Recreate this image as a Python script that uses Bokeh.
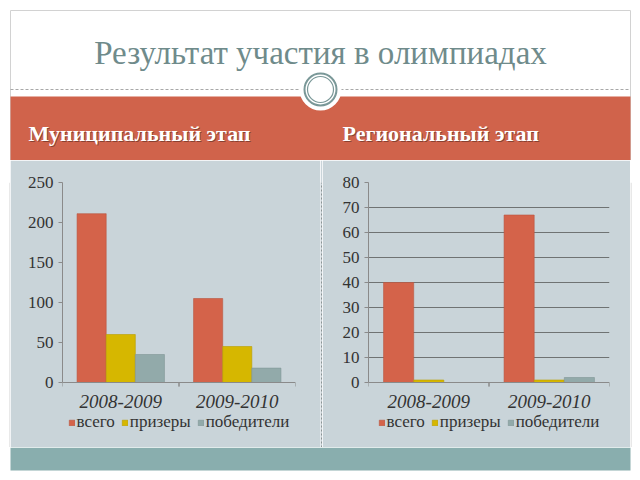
from bokeh.plotting import figure
from bokeh.layouts import row, column
from bokeh.models import (Range1d, FactorRange, Legend, LegendItem, SingleIntervalTicker,
                          Span)
from bokeh.transform import dodge
from bokeh.core.properties import value
from bokeh.embed import file_html
from bokeh.resources import INLINE

# ---------------- data ----------------
title = "Результат участия в олимпиадах"
section_left = "Муниципальный этап"
section_right = "Региональный этап"
years = ["2008-2009", "2009-2010"]
series = ["всего", "призеры", "победители"]
municipal_total = [211, 105]
municipal_prize = [60, 45]
municipal_win = [35, 18]
regional_total = [40, 67]
regional_prize = [1, 1]
regional_win = [0, 2]

# ---------------- style ----------------
SERIF = value("Liberation Serif")
RED = "#d4634a"
YELLOW = "#d6b700"
TEAL = "#92aaaa"
PANEL = "#c9d4d9"
BAND = "#89aeae"
HEAD_RED = "#d0634b"
TEXT = "#333333"
AXIS = "#8a8a8a"


def blank(w, h, xr, yr, bg):
    f = figure(width=w, height=h, x_range=Range1d(*xr), y_range=Range1d(*yr),
               output_backend="svg", toolbar_location=None,
               x_axis_location=None, y_axis_location=None, min_border=0)
    f.grid.visible = False
    f.outline_line_color = None
    f.background_fill_color = bg
    f.border_fill_color = bg
    return f


# ---------------- header ----------------
hdr = blank(640, 160, (0, 640), (160, 0), "white")
hdr.segment(x0=[10, 630, 10], y0=[10, 10, 10], x1=[10, 630, 630], y1=[160, 160, 10],
            line_color="#d2d2d2", line_width=1)
hdr.text(x=[320], y=[52], text=[title], text_align="center", text_baseline="middle",
         text_font=SERIF, text_font_size="33px", text_color="#6f8b8b")
hdr.segment(x0=[10], y0=[89], x1=[630], y1=[89], line_color="#a8a8a8",
            line_width=1, line_dash="3 2")
hdr.quad(left=[10], right=[630], top=[96], bottom=[160], fill_color=HEAD_RED,
         line_color=None)
hdr.circle(x=[320], y=[89], radius=21, fill_color="white", line_color=None)
hdr.circle(x=[320], y=[89], radius=16, fill_color="white", line_color="#7a9898",
           line_width=2)
hdr.circle(x=[320], y=[89], radius=13, fill_color=None, line_color="#7a9898",
           line_width=1.2)
for tx, t in [(28, section_left), (342, section_right)]:
    hdr.text(x=[tx + 1], y=[134], text=[t], text_align="left", text_baseline="middle",
             text_font=SERIF, text_font_size="22px", text_font_style="bold",
             text_color="black", text_alpha=0.35)
    hdr.text(x=[tx], y=[133], text=[t], text_align="left", text_baseline="middle",
             text_font=SERIF, text_font_size="22px", text_font_style="bold",
             text_color="white")


# ---------------- charts ----------------
def chart(w, left_border, right_border, ymax, step, total, prize, win, grid):
    px = ymax / 200.0  # data units per pixel (200 px from 0 to ymax)
    p = figure(width=w, height=287, x_range=FactorRange(*years, range_padding=0),
               y_range=Range1d(-65 * px, ymax), output_backend="svg",
               toolbar_location=None, x_axis_location=None,
               min_border_left=left_border, min_border_right=right_border,
               min_border_top=22, min_border_bottom=0)
    p.background_fill_color = PANEL
    p.border_fill_color = PANEL
    p.outline_line_color = PANEL
    p.outline_line_width = 1.5
    p.xgrid.visible = False
    if grid:
        p.ygrid.grid_line_color = "#6f7373"
        p.ygrid.grid_line_width = 1
        p.ygrid.bounds = (px, ymax)
    else:
        p.ygrid.visible = False
    yax = p.yaxis[0]
    yax.ticker = SingleIntervalTicker(interval=step)
    yax.bounds = (0, ymax)
    yax.axis_line_color = AXIS
    yax.major_tick_line_color = AXIS
    yax.major_tick_in = 0
    yax.major_tick_out = 4
    yax.minor_tick_line_color = None
    yax.major_label_text_font = "Liberation Serif"
    yax.major_label_text_color = TEXT
    yax.major_label_text_font_size = "17px"
    yax.major_label_standoff = 5

    data = dict(x=years, total=total, prize=prize, win=win,
                zero=[0] * len(years), tick=[-4 * px] * len(years),
                lab=[-19 * px] * len(years))
    # x axis line and group boundary ticks
    p.add_layout(Span(location=0, dimension="width", line_color=AXIS, line_width=1))
    for off in (-0.5, 0.5):
        p.segment(x0=dodge("x", off, range=p.x_range), y0="zero",
                  x1=dodge("x", off, range=p.x_range), y1="tick",
                  source=data, line_color=AXIS, line_width=1)
    p.text(x="x", y="lab", text="x", source=data, text_align="center",
           text_baseline="middle", text_font=SERIF, text_font_size="19px",
           text_font_style="italic", text_color=TEXT)

    r1 = p.vbar(x=dodge("x", -0.25, range=p.x_range), top="total", width=0.25,
                source=data, fill_color=RED, line_color="#b85540", line_width=0.6)
    r2 = p.vbar(x=dodge("x", 0.0, range=p.x_range), top="prize", width=0.25,
                source=data, fill_color=YELLOW, line_color="#b89e00", line_width=0.6)
    r3 = p.vbar(x=dodge("x", 0.25, range=p.x_range), top="win", width=0.25,
                source=data, fill_color=TEAL, line_color="#7f9595", line_width=0.6)

    legend = Legend(items=[LegendItem(label=series[0], renderers=[r1]),
                           LegendItem(label=series[1], renderers=[r2]),
                           LegendItem(label=series[2], renderers=[r3])],
                    orientation="horizontal", location="bottom_center",
                    glyph_width=7, glyph_height=7, label_standoff=2, spacing=6,
                    padding=0, margin=15, border_line_color=None,
                    background_fill_alpha=0,
                    label_text_font="Liberation Serif", label_text_font_size="17px",
                    label_text_color=TEXT, label_height=14)
    p.add_layout(legend)
    return p


left = chart(310, 52, 25, 250, 50, municipal_total, municipal_prize, municipal_win, False)
right = chart(308, 46, 21, 80, 10, regional_total, regional_prize, regional_win, True)

sep = blank(2, 287, (0, 2), (0, 287), PANEL)
sep.segment(x0=[1], y0=[0], x1=[1], y1=[287], line_color="#8c9494", line_width=1,
            line_dash="2 2")
lstrip = blank(10, 287, (0, 10), (0, 287), "white")
lstrip.segment(x0=[9.5], y0=[0], x1=[9.5], y1=[287], line_color="#d2d2d2")
rstrip = blank(10, 287, (0, 10), (0, 287), "white")
rstrip.segment(x0=[0.5], y0=[0], x1=[0.5], y1=[287], line_color="#d2d2d2")

# ---------------- footer ----------------
ftr = blank(640, 33, (0, 640), (33, 0), "white")
ftr.quad(left=[10], right=[630], top=[0], bottom=[23], fill_color=BAND, line_color=None)

page = column(hdr, row(lstrip, left, sep, right, rstrip, spacing=0), ftr, spacing=0)

open("out.html", "w").write(file_html(page, INLINE))
